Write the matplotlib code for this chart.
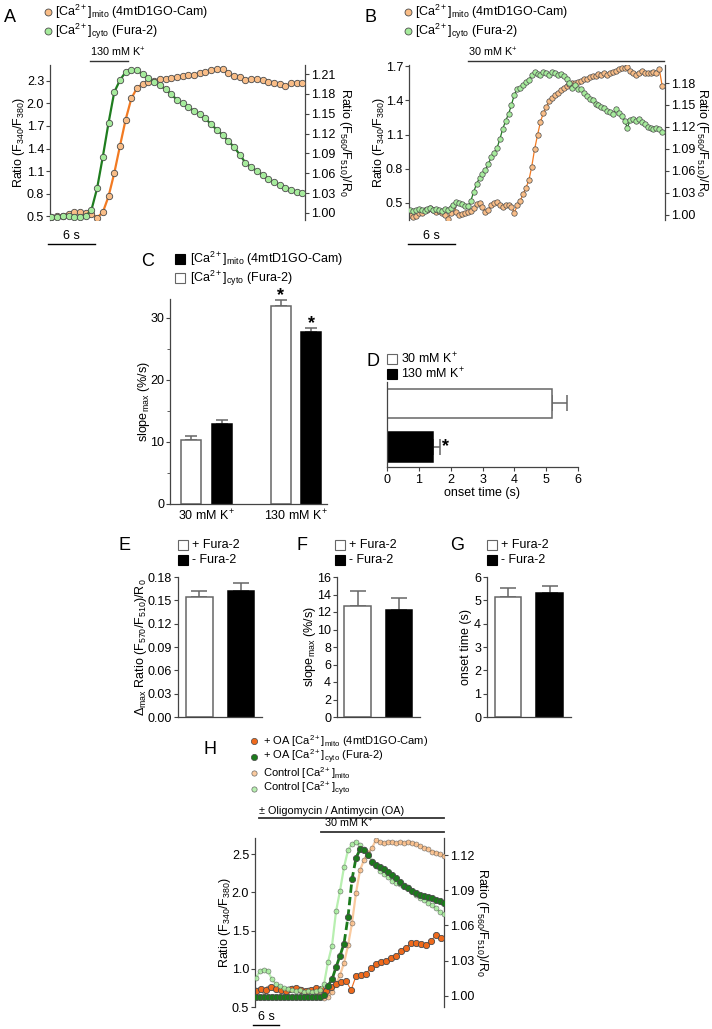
import numpy as np
import matplotlib.pyplot as plt
from matplotlib.lines import Line2D
from matplotlib.ticker import FormatStrFormatter, MultipleLocator

W, H = 712, 1029

plt.rcParams.update({
    "font.family": "Liberation Sans",
    "font.size": 9,
    "mathtext.fontset": "custom",
    "mathtext.rm": "Liberation Sans",
    "mathtext.it": "Liberation Sans:italic",
    "mathtext.bf": "Liberation Sans:bold",
    "axes.linewidth": 0.9,
    "axes.edgecolor": "#444444",
    "xtick.color": "#444444",
    "ytick.color": "#444444",
    "xtick.labelcolor": "black",
    "ytick.labelcolor": "black",
    "xtick.major.size": 3,
    "ytick.major.size": 3,
    "xtick.major.pad": 2,
    "ytick.major.pad": 1.2,
})

ORANGE_FACE = "#f9bd87"
ORANGE_LINE = "#f27a22"
GREEN_FACE = "#a6eb9c"
GREEN_LINE = "#1f7d1f"
OA_ORANGE = "#ef6a1c"
OA_GREEN = "#1c7a1c"
EDGE = "#4a4a4a"
BAR_EDGE = "#666666"
TICK_FS = 9
LABEL_FS = 9

# ─── data ────────────────────────────────────────────────────────────────────

# A: 130 mM K+, samples every ~0.73 s
DT_A, T0_A = 0.728, 0.19
a_cyto = [0.49, 0.49, 0.50, 0.50, 0.49, 0.49, 0.50, 0.58, 0.87, 1.29, 1.74, 2.15,
          2.31, 2.42, 2.44, 2.44, 2.39, 2.34, 2.29, 2.24, 2.19, 2.12, 2.05, 2.00,
          1.95, 1.90, 1.86, 1.80, 1.72, 1.65, 1.58, 1.50, 1.42, 1.32, 1.21, 1.15,
          1.10, 1.05, 0.99, 0.95, 0.92, 0.88, 0.85, 0.82, 0.81]
a_mito = [0.994, 0.995, 0.996, 0.999, 1.001, 1.001, 1.000, 0.999, 0.993, 1.001,
          1.025, 1.060, 1.101, 1.141, 1.173, 1.189, 1.195, 1.198, 1.200, 1.202,
          1.203, 1.204, 1.206, 1.207, 1.208, 1.209, 1.211, 1.213, 1.216, 1.218,
          1.217, 1.211, 1.207, 1.205, 1.201, 1.202, 1.203, 1.201, 1.198, 1.196,
          1.195, 1.192, 1.196, 1.197, 1.196]

# B: 30 mM K+, samples every ~0.37 s
DT_B, T0_B = 0.370, 0.13
b_cyto = [0.44, 0.43, 0.44, 0.45, 0.44, 0.43, 0.45, 0.46, 0.44, 0.45, 0.44, 0.43,
          0.45, 0.44, 0.46, 0.48, 0.51, 0.50, 0.49, 0.47, 0.47, 0.52, 0.60, 0.67,
          0.72, 0.75, 0.79, 0.84, 0.90, 0.94, 0.98, 1.06, 1.15, 1.22, 1.28, 1.36,
          1.45, 1.50, 1.51, 1.53, 1.56, 1.58, 1.62, 1.65, 1.63, 1.62, 1.65, 1.64,
          1.62, 1.65, 1.64, 1.62, 1.63, 1.61, 1.59, 1.55, 1.51, 1.53, 1.50, 1.50,
          1.46, 1.44, 1.41, 1.40, 1.37, 1.36, 1.34, 1.33, 1.31, 1.30, 1.28, 1.32,
          1.29, 1.26, 1.22, 1.16, 1.23, 1.24, 1.22, 1.24, 1.21, 1.19, 1.17, 1.16,
          1.15, 1.16, 1.15, 1.12]
b_mito = [1.000, 0.997, 0.998, 1.003, 1.002, 1.006, 1.007, 1.009, 1.007, 1.004,
          1.005, 1.002, 1.000, 0.994, 1.003, 1.012, 1.004, 1.000, 1.001, 1.002,
          1.004, 1.005, 1.009, 1.015, 1.016, 1.011, 1.004, 1.006, 1.014, 1.016,
          1.018, 1.013, 1.011, 1.014, 1.013, 1.011, 1.003, 1.013, 1.019, 1.028,
          1.037, 1.047, 1.066, 1.090, 1.109, 1.127, 1.139, 1.147, 1.155, 1.160,
          1.163, 1.166, 1.170, 1.173, 1.176, 1.178, 1.180, 1.180, 1.182, 1.183,
          1.185, 1.186, 1.188, 1.190, 1.190, 1.192, 1.191, 1.193, 1.191, 1.194,
          1.195, 1.197, 1.199, 1.200, 1.201, 1.202, 1.197, 1.193, 1.191, 1.194,
          1.196, 1.194, 1.193, 1.193, 1.195, 1.194, 1.199, 1.176]

# C: max slope (%/s)
c_groups = ["30 mM K$^{+}$", "130 mM K$^{+}$"]
c_cyto = [10.3, 31.8]
c_cyto_err = [0.6, 1.1]
c_mito = [12.8, 27.7]
c_mito_err = [0.7, 0.7]
c_signif = [False, True]

# D: onset time (s)
d_conditions = ["30 mM K$^{+}$", "130 mM K$^{+}$"]
d_onset = [5.18, 1.45]
d_onset_err = [0.47, 0.22]

# E-G: +/- Fura-2
efg_groups = ["+ Fura-2", "- Fura-2"]
e_delta = [0.154, 0.162]
e_delta_err = [0.008, 0.010]
f_slope = [12.7, 12.2]
f_slope_err = [1.7, 1.4]
g_onset = [5.16, 5.31]
g_onset_err = [0.38, 0.32]

# H: +/- oligomycin/antimycin, 30 mM K+
DT_H4, DT_H5, T0_H = 0.923, 1.154, 0.23
h_ctrl_cyto = [0.88, 0.97, 0.99, 0.97, 0.86, 0.80, 0.77, 0.75, 0.74, 0.72, 0.71, 0.72,
               0.70, 0.71, 0.70, 0.71, 0.72, 0.80, 1.09, 1.30, 1.75, 2.02, 2.33, 2.55,
               2.63, 2.66, 2.62, 2.56, 2.49, 2.41, 2.34, 2.28, 2.24, 2.20, 2.15, 2.12,
               2.11, 2.09, 2.07, 2.02, 1.97, 1.93, 1.90, 1.86, 1.84, 1.79, 1.74, 1.71]
h_ctrl_mito = [1.005, 1.006, 1.004, 1.007, 1.008, 1.006, 1.007, 1.005, 1.006, 1.007,
               1.005, 1.006, 1.004, 1.005, 1.004, 1.003, 1.001, 0.998, 0.999, 1.003,
               1.010, 1.018, 1.028, 1.043, 1.062, 1.088, 1.107, 1.116, 1.122, 1.126,
               1.133, 1.131, 1.130, 1.131, 1.131, 1.130, 1.131, 1.130, 1.131, 1.130,
               1.129, 1.128, 1.126, 1.125, 1.123, 1.122, 1.121, 1.119]
h_oa_cyto = [0.63, 0.63, 0.63, 0.63, 0.63, 0.63, 0.63, 0.63, 0.63, 0.63, 0.63, 0.63,
             0.63, 0.63, 0.63, 0.63, 0.63, 0.66, 0.78, 0.86, 1.02, 1.17, 1.33, 1.68,
             2.17, 2.45, 2.56, 2.55, 2.49, 2.40, 2.36, 2.33, 2.31, 2.26, 2.22, 2.19,
             2.13, 2.08, 2.05, 2.02, 1.99, 1.97, 1.95, 1.94, 1.92, 1.90, 1.88, 1.86]
h_oa_mito = [1.004, 1.006, 1.005, 1.008, 1.006, 1.005, 1.004, 1.006, 1.007, 1.005,
             1.004, 1.005, 1.007, 1.006, 1.004, 1.008, 1.010, 1.012, 1.013, 1.005,
             1.017, 1.018, 1.019, 1.024, 1.027, 1.029, 1.030, 1.032, 1.034, 1.038,
             1.041, 1.045, 1.045, 1.044, 1.043, 1.047, 1.052, 1.049]

# ─── helpers ─────────────────────────────────────────────────────────────────

fig = plt.figure(figsize=(W / 100, H / 100), dpi=100)


def box(x0, y0, x1, y1):
    return [x0 / W, 1 - y1 / H, (x1 - x0) / W, (y1 - y0) / H]


def ftext(x, y, s, **kw):
    kw.setdefault("va", "center")
    fig.text(x / W, 1 - y / H, s, **kw)


def fmark(x, y, **kw):
    fig.add_artist(Line2D([x / W], [1 - y / H], transform=fig.transFigure, **kw))


def times(n, t0, dt):
    return t0 + dt * np.arange(n)


def trace(ax, t, v, face, line, ms, lw=1.3, ls="-", alpha=1.0, mew=0.6):
    ax.plot(t, v, color=line, lw=lw, ls=ls, alpha=alpha, zorder=2)
    ax.plot(t, v, ls="none", marker="o", ms=ms, mfc=face, mec=EDGE, mew=mew,
            alpha=alpha, zorder=3)


def place_ylabel(ax, text, x_off, width, rotation=90):
    # x_off: label centre, in pixels from the axes' left edge
    ax.set_ylabel(text, fontsize=LABEL_FS, rotation=rotation, va="center",
                  ha="center")
    ax.yaxis.set_label_coords(x_off / width, 0.5)


def dual_axes(rect, xlim, ylim_l, ylim_r, yt_l, yt_r, lab_l, lab_r, lab_lx, lab_rx):
    ax = fig.add_axes(rect)
    ax2 = ax.twinx()
    for a in (ax, ax2):
        a.set_xlim(*xlim)
        a.set_xticks([])
        a.spines["top"].set_visible(False)
        a.spines["bottom"].set_visible(False)
    ax.spines["right"].set_visible(False)
    ax2.spines["left"].set_visible(False)
    ax.set_ylim(*ylim_l)
    ax2.set_ylim(*ylim_r)
    ax.set_yticks(yt_l)
    ax2.set_yticks(yt_r)
    ax.yaxis.set_major_formatter(FormatStrFormatter("%.1f"))
    ax2.yaxis.set_major_formatter(FormatStrFormatter("%.2f"))
    ax.tick_params(labelsize=TICK_FS)
    ax2.tick_params(labelsize=TICK_FS)
    w = rect[2] * W
    place_ylabel(ax, lab_l, lab_lx, w)
    place_ylabel(ax2, lab_r, lab_rx, w, rotation=270)
    # green (left axis) traces drawn above orange ones
    ax.set_zorder(ax2.get_zorder() + 1)
    ax.patch.set_visible(False)
    return ax, ax2


def hbar_mark(ax, t0, t1, yfrac, label, lw=1.0, tx=None):
    tr = ax.get_xaxis_transform()
    ax.plot([t0, t1], [yfrac, yfrac], color="#333333", lw=lw, transform=tr,
            clip_on=False)
    ax.text(t0 if tx is None else tx, yfrac + 0.01, label, transform=tr,
            fontsize=7.8, ha="left", va="bottom")


def scale_bar(ax, t0, yfrac, yfrac_txt):
    tr = ax.get_xaxis_transform()
    ax.plot([t0, t0 + 6], [yfrac, yfrac], color="black", lw=1.0, transform=tr,
            clip_on=False)
    ax.text(t0 + 3, yfrac_txt, "6 s", transform=tr, fontsize=9, ha="center",
            va="bottom")


def bar_axes(rect, xlim, ylim):
    ax = fig.add_axes(rect)
    ax.spines["top"].set_visible(False)
    ax.spines["right"].set_visible(False)
    ax.set_xlim(*xlim)
    ax.set_ylim(*ylim)
    ax.tick_params(labelsize=TICK_FS)
    return ax


MITO_LAB = "[Ca$^{2+}$]$_{\\rm mito}$ (4mtD1GO-Cam)"
CYTO_LAB = "[Ca$^{2+}$]$_{\\rm cyto}$ (Fura-2)"
RATIO_L = "Ratio (F$_{340}$/F$_{380}$)"
RATIO_R = "Ratio (F$_{560}$/F$_{510}$)/R$_0$"

# ─── A ───────────────────────────────────────────────────────────────────────

axA, axA2 = dual_axes(box(50, 65, 305, 220), (0, 32.55), (0.447, 2.513),
                      (0.9894, 1.2236),
                      [0.5, 0.8, 1.1, 1.4, 1.7, 2.0, 2.3],
                      [1.00, 1.03, 1.06, 1.09, 1.12, 1.15, 1.18, 1.21],
                      RATIO_L, RATIO_R, -31, 295)
tA = times(len(a_cyto), T0_A, DT_A)
trace(axA2, tA, a_mito, ORANGE_FACE, ORANGE_LINE, 4.6, lw=1.6)
trace(axA, tA, a_cyto, GREEN_FACE, GREEN_LINE, 4.6, lw=1.6)
hbar_mark(axA, 5.1, 9.96, 1.026, "130 mM K$^{+}$")
scale_bar(axA, -0.25, -0.155, -0.14)
ftext(10, 17, "A", fontsize=13, ha="center")
fmark(48, 12, marker="o", ms=5, mfc=ORANGE_FACE, mec=EDGE, mew=0.6)
fmark(48, 31, marker="o", ms=5, mfc=GREEN_FACE, mec=EDGE, mew=0.6)
ftext(55, 12, MITO_LAB, fontsize=9)
ftext(55, 31, CYTO_LAB, fontsize=9)

# ─── B ───────────────────────────────────────────────────────────────────────

axB, axB2 = dual_axes(box(409, 65, 665, 220), (0, 32.68), (0.351, 1.709),
                      (0.993, 1.2046),
                      [0.5, 0.8, 1.1, 1.4, 1.7],
                      [1.00, 1.03, 1.06, 1.09, 1.12, 1.15, 1.18],
                      RATIO_L, RATIO_R, -30, 293)
tB = times(len(b_cyto), T0_B, DT_B)
trace(axB2, tB, b_mito, ORANGE_FACE, ORANGE_LINE, 3.9, lw=0.9, mew=0.5)
trace(axB, tB, b_cyto, GREEN_FACE, GREEN_LINE, 3.9, lw=0.9, mew=0.5)
hbar_mark(axB, 7.53, 32.55, 1.026, "30 mM K$^{+}$")
scale_bar(axB, -0.13, -0.155, -0.14)
ftext(371, 17, "B", fontsize=13, ha="center")
fmark(408, 12, marker="o", ms=5, mfc=ORANGE_FACE, mec=EDGE, mew=0.6)
fmark(408, 31, marker="o", ms=5, mfc=GREEN_FACE, mec=EDGE, mew=0.6)
ftext(415, 12, MITO_LAB, fontsize=9)
ftext(415, 31, CYTO_LAB, fontsize=9)

# ─── C ───────────────────────────────────────────────────────────────────────

axC = bar_axes(box(170, 299, 327, 504), (-0.408, 1.346), (0, 33))
xc = np.arange(len(c_groups))
bw, off = 0.223, 0.17
axC.bar(xc - off, c_cyto, bw, color="white", edgecolor=BAR_EDGE, lw=1.1, zorder=2)
axC.bar(xc + off, c_mito, bw, color="black", edgecolor="black", lw=1.1, zorder=2)
axC.errorbar(xc - off, c_cyto, yerr=[np.zeros(2), c_cyto_err], fmt="none",
             ecolor=BAR_EDGE, elinewidth=1.1, capsize=4, capthick=1.1, zorder=1)
axC.errorbar(xc + off, c_mito, yerr=[np.zeros(2), c_mito_err], fmt="none",
             ecolor=BAR_EDGE, elinewidth=1.1, capsize=4, capthick=1.1, zorder=1)
for i, sig in enumerate(c_signif):
    if sig:
        axC.text(xc[i] - off, c_cyto[i] + c_cyto_err[i] + 0.6, "*", ha="center",
                 va="center", fontsize=13, fontweight="bold", clip_on=False)
        axC.text(xc[i] + off, c_mito[i] + c_mito_err[i] + 0.6, "*", ha="center",
                 va="center", fontsize=13, fontweight="bold", clip_on=False)
axC.set_xticks(xc)
axC.set_xticklabels(c_groups, fontsize=9)
axC.tick_params(axis="x", length=0, pad=3)
axC.set_yticks([0, 10, 20, 30])
axC.yaxis.set_minor_locator(MultipleLocator(5))
axC.tick_params(axis="y", which="minor", length=2)
place_ylabel(axC, "slope$_{\\rm max}$ (%/s)", -26, 157)
ftext(148, 262, "C", fontsize=13, ha="center")
fmark(180, 259, marker="s", ms=6.5, mfc="black", mec="black", mew=0.8)
fmark(180, 278, marker="s", ms=6.5, mfc="white", mec=BAR_EDGE, mew=0.8)
ftext(190, 259, MITO_LAB, fontsize=9)
ftext(190, 278, CYTO_LAB, fontsize=9)

# ─── D ───────────────────────────────────────────────────────────────────────

axD = bar_axes(box(387, 382, 578, 467), (0, 6), (-0.46, 1.49))
yd = np.array([1, 0])
axD.barh(yd, d_onset, 0.68, color=["white", "black"],
         edgecolor=[BAR_EDGE, "black"], lw=1.1, zorder=2)
axD.errorbar(d_onset, yd, xerr=[np.zeros(2), d_onset_err], fmt="none",
             ecolor=BAR_EDGE, elinewidth=1.1, capsize=6, capthick=1.1, zorder=1)
axD.text(d_onset[1] + d_onset_err[1] + 0.06, yd[1], "*", ha="left", va="center",
         fontsize=13, fontweight="bold")
axD.set_yticks([])
axD.set_xticks(range(7))
axD.set_xlabel("onset time (s)", fontsize=LABEL_FS, labelpad=1)
ftext(373, 362, "D", fontsize=13, ha="center")
fmark(392, 359, marker="s", ms=6.5, mfc="white", mec=BAR_EDGE, mew=0.8)
fmark(392, 374, marker="s", ms=6.5, mfc="black", mec="black", mew=0.8)
ftext(401, 359, d_conditions[0], fontsize=9)
ftext(401, 374, d_conditions[1], fontsize=9)

# ─── E, F, G ─────────────────────────────────────────────────────────────────


def two_bar(rect, xlim, ylim, vals, errs, ticks, fmt, ylabel, lab_x, letter,
            letter_x, leg_x):
    ax = bar_axes(rect, xlim, ylim)
    xe = np.arange(2)
    ax.bar(xe, vals, 0.65, color=["white", "black"],
           edgecolor=[BAR_EDGE, "black"], lw=1.1, zorder=2)
    ax.errorbar(xe, vals, yerr=[np.zeros(2), errs], fmt="none", ecolor=BAR_EDGE,
                elinewidth=1.1, capsize=6, capthick=1.1, zorder=1)
    ax.set_xticks([])
    ax.set_yticks(ticks)
    ax.yaxis.set_major_formatter(FormatStrFormatter(fmt))
    place_ylabel(ax, ylabel, lab_x, rect[2] * W)
    ftext(letter_x, 545, letter, fontsize=13, ha="center")
    fmark(leg_x, 545, marker="s", ms=6.5, mfc="white", mec=BAR_EDGE, mew=0.8)
    fmark(leg_x, 560, marker="s", ms=6.5, mfc="black", mec="black", mew=0.8)
    ftext(leg_x + 9, 545, efg_groups[0], fontsize=9)
    ftext(leg_x + 9, 560, efg_groups[1], fontsize=9)
    return ax


two_bar(box(178, 577, 262, 717), (-0.518, 1.506), (0, 0.18), e_delta, e_delta_err,
        np.arange(0, 0.181, 0.03), "%.2f",
        "Δ$_{\\rm max}$ Ratio (F$_{570}$/F$_{510}$)/R$_0$", -37, "E", 124, 183)
two_bar(box(337, 577, 420, 717), (-0.494, 1.506), (0, 16), f_slope, f_slope_err,
        range(0, 17, 2), "%d", "slope$_{\\rm max}$ (%/s)", -27, "F", 302, 340)
two_bar(box(487, 577, 571, 717), (-0.506, 1.518), (0, 6), g_onset, g_onset_err,
        range(0, 7), "%d", "onset time (s)", -21, "G", 457, 492)

# ─── H ───────────────────────────────────────────────────────────────────────

axH, axH2 = dual_axes(box(255, 838, 444, 1007), (0, 43.6), (0.5, 2.71),
                      (0.9906, 1.1345),
                      [0.5, 1.0, 1.5, 2.0, 2.5],
                      [1.00, 1.03, 1.06, 1.09, 1.12],
                      RATIO_L, RATIO_R, -30, 227)
t4 = times(len(h_ctrl_cyto), T0_H, DT_H4)
t5 = times(len(h_oa_mito), T0_H, DT_H5)
trace(axH2, t4, h_ctrl_mito, ORANGE_FACE, ORANGE_FACE, 3.6, lw=1.6, alpha=0.8,
      mew=0.4)
trace(axH2, t5, h_oa_mito, OA_ORANGE, OA_ORANGE, 4.5, lw=0.8, mew=0.6)
trace(axH, t4, h_ctrl_cyto, GREEN_FACE, GREEN_FACE, 3.6, lw=1.6, alpha=0.8, mew=0.4)
trace(axH, times(len(h_oa_cyto), T0_H, DT_H4), h_oa_cyto, OA_GREEN, OA_GREEN, 4.5,
      lw=2.0, ls=(0, (3, 1.5)), mew=0.6)
hbar_mark(axH, 0.92, 43.6, 1.118, "± Oligomycin / Antimycin (OA)", lw=1.3)
hbar_mark(axH, 15.2, 43.6, 1.0355, "30 mM K$^{+}$", lw=1.3, tx=15.9)
scale_bar(axH, -0.46, -0.1065, -0.095)
ftext(210, 750, "H", fontsize=13, ha="center")
h_leg = [(741, OA_ORANGE, 4.5, "+ OA " + MITO_LAB, 1.0),
         (757, OA_GREEN, 4.5, "+ OA " + CYTO_LAB, 1.0),
         (773, ORANGE_FACE, 3.8, "Control [Ca$^{2+}$]$_{\\rm mito}$", 0.8),
         (789, GREEN_FACE, 3.8, "Control [Ca$^{2+}$]$_{\\rm cyto}$", 0.8)]
for y, col, ms, lab, al in h_leg:
    fmark(254, y, marker="o", ms=ms, mfc=col, mec=EDGE, mew=0.5, alpha=al)
    ftext(263, y, lab, fontsize=8)

fig.savefig("out.png", dpi=100, facecolor="white")
